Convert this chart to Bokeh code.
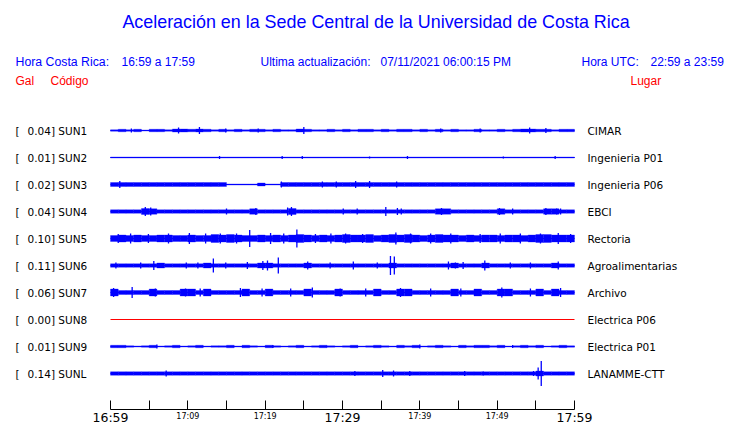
from bokeh.plotting import figure
from bokeh.models import ColumnDataSource, Range1d, LinearAxis, FixedTicker, Label
from bokeh.core.properties import value
from bokeh.embed import file_html
from bokeh.resources import INLINE

# ---------------- data ----------------
CODES = ["SUN1", "SUN2", "SUN3", "SUN4", "SUN5", "SUN6", "SUN7", "SUN8", "SUN9", "SUNL"]
PLACES = ["CIMAR", "Ingenieria P01", "Ingenieria P06", "EBCI", "Rectoria",
          "Agroalimentarias", "Archivo", "Electrica P06", "Electrica P01", "LANAMME-CTT"]
PEAK_GAL = [0.04, 0.01, 0.02, 0.04, 0.10, 0.11, 0.06, 0.00, 0.01, 0.14]

TICK_MINUTES = [0, 10, 20, 30, 40, 50, 60]
MINOR_MINUTES = [5, 15, 25, 35, 45, 55]
TICK_LABELS = ["16:59", "17:09", "17:19", "17:29", "17:39", "17:49", "17:59"]
BIG_TICKS = [0, 30, 60]

# one-minute envelope (half amplitude) of each record
ENV_SUN1 = [0.75, 1.25, 0.75, 1.25, 0.5, 1.25, 1.25, 0.75, 1.5, 1.5,
            1.25, 1.5, 1.25, 0.75, 1.25, 0.75, 1.25, 0.75, 1.25, 1.25,
            0.75, 1.25, 0.75, 0.75, 1.5, 1.25, 0.75, 0.75, 1.25, 0.75,
            1.25, 0.75, 1.25, 1.25, 0.75, 1.25, 0.75, 1.25, 1.25, 0.75,
            1.25, 0.75, 1.25, 0.75, 1.25, 0.75, 0.75, 1.25, 0.75, 0.75,
            1.25, 0.75, 1.25, 1.5, 1.5, 1.25, 1.25, 0.75, 1.25, 1.25]
ENV_SUN2 = [0.5, 0.5, 0.5, 0.5, 0.5, 0.5, 0.5, 0.5, 0.5, 0.5,
            0.5, 0.5, 0.5, 0.5, 0.5, 0.5, 0.5, 0.5, 0.5, 0.5,
            0.5, 0.5, 0.5, 0.5, 0.5, 0.5, 0.5, 0.5, 0.5, 0.5,
            0.5, 0.5, 0.5, 0.5, 0.5, 0.5, 0.5, 0.5, 0.5, 0.5,
            0.5, 0.5, 0.5, 0.5, 0.5, 0.5, 0.5, 0.5, 0.5, 0.5,
            0.5, 0.5, 0.5, 0.5, 0.5, 0.5, 0.5, 0.5, 0.5, 0.5]
ENV_SUN3 = [2.0, 2.0, 2.0, 2.0, 2.0, 2.0, 2.0, 2.0, 2.0, 2.0,
            2.0, 2.0, 2.0, 2.0, 2.0, 0.5, 0.5, 0.5, 0.5, 1.5,
            0.5, 0.5, 2.0, 2.0, 2.0, 2.0, 2.0, 2.0, 2.0, 2.0,
            2.0, 2.0, 2.0, 2.0, 2.0, 2.0, 2.0, 2.0, 2.0, 2.0,
            2.0, 2.0, 2.0, 2.0, 2.0, 2.0, 2.0, 2.0, 2.0, 2.0,
            2.0, 2.0, 2.0, 2.0, 2.0, 2.0, 2.0, 2.0, 2.0, 2.0]
ENV_SUN4 = [1.75, 1.75, 1.75, 1.75, 3.0, 2.75, 1.75, 1.75, 1.75, 1.75,
            1.75, 1.75, 1.75, 1.75, 1.75, 1.75, 1.75, 1.75, 2.75, 1.75,
            1.75, 1.75, 1.75, 3.0, 1.75, 1.75, 1.75, 1.75, 1.75, 1.75,
            1.75, 1.75, 1.75, 1.75, 1.75, 1.75, 1.75, 1.75, 1.75, 1.75,
            1.75, 1.75, 2.75, 2.75, 1.75, 1.75, 1.75, 1.75, 1.75, 1.75,
            2.75, 1.75, 1.75, 1.75, 1.75, 1.75, 2.75, 2.75, 1.75, 1.75]
ENV_SUN5 = [3.0, 3.5, 3.0, 3.5, 3.0, 3.0, 3.5, 3.5, 3.0, 3.0,
            3.5, 3.0, 3.0, 4.0, 3.5, 4.0, 3.5, 3.0, 3.0, 3.5,
            3.0, 3.5, 3.0, 3.5, 4.0, 3.5, 3.0, 3.5, 3.0, 3.5,
            4.0, 3.5, 3.5, 4.0, 3.0, 3.5, 4.0, 3.5, 4.0, 3.5,
            3.0, 3.5, 4.0, 3.5, 3.5, 3.0, 3.5, 3.0, 3.5, 3.5,
            3.0, 3.5, 3.5, 3.0, 3.5, 4.0, 4.0, 3.5, 3.5, 3.5]
ENV_SUN6 = [1.75, 1.75, 1.75, 1.75, 1.75, 1.75, 2.5, 1.75, 1.75, 1.75,
            1.75, 1.75, 2.5, 1.75, 1.75, 1.75, 1.75, 1.75, 1.75, 2.5,
            2.5, 1.75, 1.75, 1.75, 1.75, 2.5, 1.75, 1.75, 1.75, 1.75,
            1.75, 1.75, 1.75, 1.75, 1.75, 1.75, 2.5, 1.75, 1.75, 1.75,
            1.75, 1.75, 1.75, 1.75, 2.5, 1.75, 1.75, 1.75, 2.5, 1.75,
            1.75, 1.75, 1.75, 1.75, 1.75, 1.75, 1.75, 2.5, 1.75, 1.75]
ENV_SUN7 = [3.5, 2.0, 2.0, 2.0, 2.0, 3.5, 2.0, 2.0, 2.0, 3.5,
            3.5, 2.0, 3.5, 2.0, 2.0, 2.0, 2.0, 3.5, 2.0, 2.0,
            3.5, 2.0, 2.0, 2.0, 2.0, 3.5, 2.0, 2.0, 2.0, 3.5,
            2.0, 2.0, 2.0, 2.0, 3.5, 2.0, 2.0, 3.5, 3.5, 2.0,
            2.0, 2.0, 2.0, 2.0, 3.5, 2.0, 2.0, 3.5, 2.0, 2.0,
            3.5, 3.5, 2.0, 2.0, 2.0, 3.5, 2.0, 3.5, 2.0, 2.0]
ENV_SUN8 = [0.0, 0.0, 0.0, 0.0, 0.0, 0.0, 0.0, 0.0, 0.0, 0.0,
            0.0, 0.0, 0.0, 0.0, 0.0, 0.0, 0.0, 0.0, 0.0, 0.0,
            0.0, 0.0, 0.0, 0.0, 0.0, 0.0, 0.0, 0.0, 0.0, 0.0,
            0.0, 0.0, 0.0, 0.0, 0.0, 0.0, 0.0, 0.0, 0.0, 0.0,
            0.0, 0.0, 0.0, 0.0, 0.0, 0.0, 0.0, 0.0, 0.0, 0.0,
            0.0, 0.0, 0.0, 0.0, 0.0, 0.0, 0.0, 0.0, 0.0, 0.0]
ENV_SUN9 = [1.25, 1.25, 0.75, 0.5, 0.75, 1.25, 0.5, 0.75, 1.25, 0.5,
            0.75, 1.25, 0.5, 0.75, 0.75, 1.25, 0.5, 1.25, 0.75, 0.5,
            1.25, 0.75, 0.5, 0.75, 1.25, 0.5, 0.75, 1.25, 0.75, 0.5,
            0.75, 1.25, 0.5, 0.75, 1.25, 0.75, 0.5, 1.25, 0.75, 1.25,
            0.5, 0.75, 1.25, 0.75, 0.5, 1.25, 0.75, 1.25, 1.25, 0.75,
            1.25, 0.5, 0.75, 1.25, 0.75, 1.25, 0.5, 0.75, 1.25, 0.75]
ENV_SUNL = [1.75, 1.75, 1.75, 1.75, 1.75, 1.75, 1.75, 1.75, 1.75, 1.75,
            1.75, 1.75, 1.75, 1.75, 1.75, 1.75, 1.75, 1.75, 1.75, 1.75,
            1.75, 1.75, 1.75, 1.75, 1.75, 1.75, 1.75, 1.75, 1.75, 1.75,
            1.75, 1.75, 1.75, 1.75, 1.75, 1.75, 1.75, 1.75, 1.75, 1.75,
            1.75, 1.75, 1.75, 1.75, 1.75, 1.75, 1.75, 1.75, 1.75, 1.75,
            1.75, 1.75, 1.75, 1.75, 1.75, 2.5, 1.75, 1.75, 1.75, 1.75]

# isolated peaks: (minute after 16:59, half amplitude)
SPK_SUN1 = [(2.7, 2.0), (8.8, 3.0), (11.5, 3.5), (14.9, 2.0), (19.1, 2.0), (25.0, 3.5),
            (42.7, 2.0), (47.8, 2.0), (54.2, 3.0), (56.3, 2.5)]
SPK_SUN2 = [(14.1, 1.5), (22.2, 1.5), (24.8, 1.5), (33.5, 1.0), (38.4, 1.5), (50.8, 1.0), (57.5, 1.5)]
SPK_SUN3 = [(1.2, 3.5), (22.1, 3.0), (27.4, 3.0), (29.2, 3.0), (31.7, 3.5), (33.5, 3.5), (37.0, 3.0)]
SPK_SUN4 = [(4.5, 4.5), (5.2, 4.0), (15.0, 3.0), (18.8, 3.5), (22.9, 4.0), (23.4, 4.5), (30.1, 3.0),
            (31.9, 3.0), (35.6, 4.5), (37.1, 3.5), (37.6, 3.0), (42.8, 3.5), (50.3, 3.5), (52.0, 3.0),
            (56.3, 3.5), (57.7, 3.0), (58.2, 3.0)]
SPK_SUN5 = [(1.0, 4.5), (2.6, 5.0), (4.9, 4.5), (7.5, 5.0), (10.2, 5.5), (12.3, 5.0), (14.2, 5.0),
            (16.3, 5.0), (18.0, 8.5), (20.7, 5.5), (22.4, 5.0), (24.1, 9.0), (26.5, 4.5), (28.5, 5.0),
            (30.4, 5.0), (32.6, 4.5), (36.9, 6.0), (38.8, 5.0), (41.4, 5.0), (44.0, 5.0), (47.8, 4.5),
            (50.4, 5.0), (53.0, 5.0), (55.6, 5.0), (57.9, 5.5), (59.5, 4.5)]
SPK_SUN6 = [(0.7, 3.0), (3.9, 3.0), (5.6, 4.5), (9.8, 3.0), (11.3, 3.0), (13.3, 7.0), (14.9, 3.0),
            (17.7, 3.5), (19.7, 4.5), (20.3, 5.0), (21.7, 8.0), (25.5, 4.0), (28.4, 3.0), (31.4, 4.0),
            (34.5, 3.0), (36.2, 9.5), (36.7, 9.0), (43.7, 4.0), (44.6, 3.0), (45.6, 3.5), (48.4, 5.0),
            (51.7, 3.0), (54.3, 3.0), (57.9, 4.0)]
SPK_SUN7 = [(0.4, 4.5), (2.8, 5.5), (5.8, 4.0), (9.7, 4.0), (11.6, 4.0), (16.8, 4.5), (19.6, 4.0),
            (23.3, 4.0), (26.1, 5.0), (29.7, 4.0), (33.0, 4.0), (37.5, 4.5), (41.4, 4.0), (45.3, 4.0),
            (50.6, 5.0), (54.3, 4.0), (58.2, 4.5)]
SPK_SUN8 = []
SPK_SUN9 = [(6.0, 2.0), (21.0, 1.5), (40.0, 2.0), (52.0, 1.5)]
SPK_SUNL = [(7.2, 3.0), (31.6, 2.5), (35.2, 3.5), (36.6, 3.0), (38.7, 2.5), (45.8, 2.5), (48.2, 2.0),
            (54.7, 2.5), (55.3, 6.0), (55.7, 12.5)]

ENVS = [ENV_SUN1, ENV_SUN2, ENV_SUN3, ENV_SUN4, ENV_SUN5, ENV_SUN6, ENV_SUN7, ENV_SUN8, ENV_SUN9, ENV_SUNL]
SPIKES = [SPK_SUN1, SPK_SUN2, SPK_SUN3, SPK_SUN4, SPK_SUN5, SPK_SUN6, SPK_SUN7, SPK_SUN8, SPK_SUN9, SPK_SUNL]

# ---------------- layout (canvas pixels) ----------------
FIG_W, FIG_H = 740, 423
AXIS_PX = 409                     # canvas y of the time axis line
T0_PX, T1_PX = 110, 574           # canvas x of 16:59 and 17:59
PX_PER_MIN = (T1_PX - T0_PX) / 60.0
TOP_PX = 130                      # canvas y of first record
ROW_GAP = 27
BLUE = "#0000ff"
RED = "#ff0000"


def X(px):
    return (px - T0_PX) / PX_PER_MIN


def Y(py):
    return TOP_PX - py


rows = [-ROW_GAP * i for i in range(len(CODES))]
colors = [RED if g == 0 else BLUE for g in PEAK_GAL]

p = figure(frame_width=FIG_W, frame_height=FIG_H,
           x_range=Range1d(X(0), X(FIG_W)),
           y_range=Range1d(Y(FIG_H), Y(0)),
           toolbar_location=None, output_backend="svg",
           x_axis_location=None, y_axis_location=None, min_border=0)
p.outline_line_color = None
p.background_fill_color = "white"
p.border_fill_color = "white"
p.xgrid.visible = False
p.ygrid.visible = False
p.grid.grid_line_color = None

# baselines
p.segment(x0=[TICK_MINUTES[0]] * len(rows), x1=[TICK_MINUTES[-1]] * len(rows),
          y0=rows, y1=rows, line_color=colors, line_width=1)

# envelopes
ex, etop, ebot, ecol = [], [], [], []
for r, env, c in zip(rows, ENVS, colors):
    for k, a in enumerate(env):
        if a > 0:
            ex.append(k + 0.5)
            etop.append(r + a)
            ebot.append(r - a)
            ecol.append(c)
p.vbar(x="x", width=1.0, top="top", bottom="bottom", fill_color="c", line_color="c",
       line_width=0.3, source=ColumnDataSource(dict(x=ex, top=etop, bottom=ebot, c=ecol)))

# peaks
sx, sy0, sy1, sc = [], [], [], []
for r, spk, c in zip(rows, SPIKES, colors):
    for t, a in spk:
        sx.append(t)
        sy0.append(r - a)
        sy1.append(r + a)
        sc.append(c)
p.segment(x0="x", x1="x", y0="y0", y1="y1", line_color="c", line_width=1.3,
          source=ColumnDataSource(dict(x=sx, y0=sy0, y1=sy1, c=sc)))

# station labels (vertically centred on the caps)
lab_y = [r - 0.7 for r in rows]
p.text(x=[X(15)] * len(rows), y=lab_y, text=["["] * len(rows),
       text_font=value("DejaVu Sans"), text_font_size="10.5px", text_color="black",
       text_baseline="middle", text_align="left")
p.text(x=[X(27)] * len(rows), y=lab_y, text=[f"{g:.2f}] {c}" for g, c in zip(PEAK_GAL, CODES)],
       text_font=value("DejaVu Sans"), text_font_size="10.5px", text_color="black",
       text_baseline="middle", text_align="left")
p.text(x=[X(587)] * len(rows), y=lab_y, text=PLACES,
       text_font=value("DejaVu Sans"), text_font_size="10.5px", text_color="black",
       text_baseline="middle", text_align="left")


def lab(txt, px, py, color=BLUE, size="12px", font="Liberation Sans", align="left"):
    p.add_layout(Label(x=X(px), y=Y(py), text=txt, text_color=color, text_font_size=size,
                       text_font=font, text_align=align, text_baseline="middle"))


lab("Aceleración en la Sede Central de la Universidad de Costa Rica", 375.5, 21.5, size="17.9px", align="center")
lab("Hora Costa Rica:", 15, 61, size="12.3px")
lab("16:59 a 17:59", 121, 61)
lab("Ultima actualización:", 260, 61)
lab("07/11/2021 06:00:15 PM", 380, 61)
lab("Hora UTC:", 581, 61)
lab("22:59 a 23:59", 650, 61)
lab("Gal", 15, 80.5, color=RED)
lab("Código", 50, 80.5, color=RED)
lab("Lugar", 630, 80.5, color=RED)

# time axis, drawn at a fixed place in the frame
axis = LinearAxis(ticker=FixedTicker(ticks=TICK_MINUTES, minor_ticks=MINOR_MINUTES),
                  bounds=(TICK_MINUTES[0], TICK_MINUTES[-1]), fixed_location=Y(AXIS_PX),
                  major_tick_in=9, major_tick_out=0, minor_tick_in=9, minor_tick_out=0,
                  major_label_standoff=2, major_label_text_font="DejaVu Sans",
                  major_label_text_font_size="8px", major_label_text_color="black",
                  axis_line_color="black", major_tick_line_color="black",
                  minor_tick_line_color="black",
                  major_label_overrides={t: ("" if t in BIG_TICKS else s)
                                         for t, s in zip(TICK_MINUTES, TICK_LABELS)})
p.add_layout(axis, "below")

for t, s in zip(TICK_MINUTES, TICK_LABELS):
    if t in BIG_TICKS:
        p.add_layout(Label(x=t, y=Y(416.5), text=s, text_align="center",
                           text_baseline="middle", text_font="DejaVu Sans",
                           text_font_size="12.5px", text_color="black"))

open("out.html", "w").write(file_html(p, INLINE))
